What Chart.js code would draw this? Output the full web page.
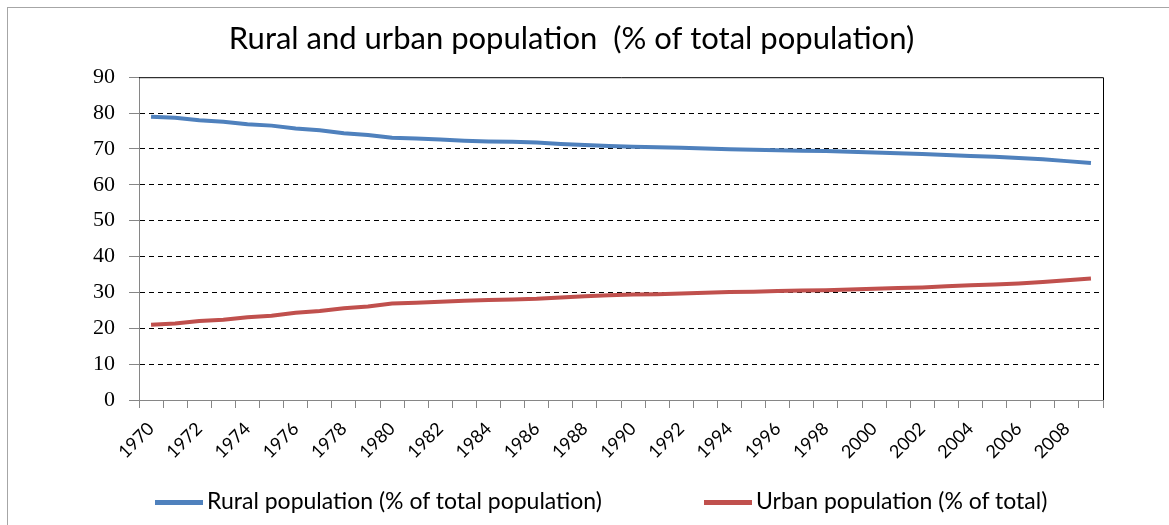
<!DOCTYPE html>
<html>
<head>
<meta charset="utf-8">
<script src="https://cdn.jsdelivr.net/npm/chart.js@4.4.1/dist/chart.umd.min.js"></script>
<style>
  html, body { margin: 0; padding: 0; background: #fff; }
  #wrap   { position: relative; width: 1169px; height: 525px; overflow: hidden; }
  #frame  { position: absolute; left: 7px; top: 7px; width: 1300px; height: 700px;
            border: 1px solid #a6a6a6; box-sizing: border-box; }
  #chart  { position: absolute; left: 0; top: 0; }
  .legend { position: absolute; top: 486px; font-family: Lato, "Open Sans", sans-serif;
            font-size: 23px; color: #000; white-space: nowrap; line-height: 28px; }
  .legend i { display: inline-block; width: 48px; height: 5px; vertical-align: middle;
              margin-right: 4px; position: relative; top: -1px; }
</style>
</head>
<body>
<div id="wrap">
  <div id="frame"></div>
  <canvas id="chart" width="1169" height="525"></canvas>
  <div class="legend" id="lg0" style="left:155px"></div>
  <div class="legend" id="lg1" style="left:704px"></div>
</div>
<script>
/* Rural and urban population (% of total) 1970-2009 */

const years = [
  "1970", "1971", "1972", "1973", "1974", "1975", "1976", "1977", "1978", "1979",
  "1980", "1981", "1982", "1983", "1984", "1985", "1986", "1987", "1988", "1989",
  "1990", "1991", "1992", "1993", "1994", "1995", "1996", "1997", "1998", "1999",
  "2000", "2001", "2002", "2003", "2004", "2005", "2006", "2007", "2008", "2009",
];

const rural = [
  79.0, 78.7, 78.0, 77.6, 76.9, 76.5, 75.7, 75.2, 74.4, 73.9,
  73.1, 72.9, 72.6, 72.3, 72.1, 72.0, 71.8, 71.4, 71.1, 70.8,
  70.6, 70.5, 70.3, 70.1, 69.9, 69.8, 69.6, 69.5, 69.4, 69.2,
  69.0, 68.8, 68.6, 68.3, 68.0, 67.8, 67.5, 67.1, 66.6, 66.1,
];

const urban = [
  21.0, 21.3, 22.0, 22.4, 23.1, 23.5, 24.3, 24.8, 25.6, 26.1,
  26.9, 27.1, 27.4, 27.7, 27.9, 28.0, 28.2, 28.6, 28.9, 29.2,
  29.4, 29.5, 29.7, 29.9, 30.1, 30.2, 30.4, 30.5, 30.6, 30.8,
  31.0, 31.2, 31.4, 31.7, 32.0, 32.2, 32.5, 32.9, 33.4, 33.9,
];

const seriesNames = ["Rural population (% of total population)", "Urban population (% of total)"];
const yTicks = [0, 10, 20, 30, 40, 50, 60, 70, 80, 90];

const BLUE  = "#4f81bd";
const RED   = "#c0504d";
const AXIS  = "#868686";
const LABEL = "Lato, 'Open Sans', sans-serif";

// solid black top + right edge of the plot area
const plotFrame = {
  id: "plotFrame",
  beforeDatasetsDraw(chart) {
    const { ctx, chartArea: a } = chart;
    ctx.save();
    ctx.strokeStyle = "#000";
    ctx.lineWidth = 1;
    ctx.beginPath();
    ctx.moveTo(a.left, a.top + 0.5);
    ctx.lineTo(a.right + 0.5, a.top + 0.5);
    ctx.lineTo(a.right + 0.5, a.bottom);
    ctx.stroke();
    ctx.restore();
  },
};

new Chart(document.getElementById("chart"), {
  type: "line",
  data: {
    labels: years,
    datasets: [
      { label: seriesNames[0], data: rural, borderColor: BLUE, backgroundColor: BLUE,
        borderWidth: 4, pointRadius: 0, tension: 0 },
      { label: seriesNames[1], data: urban, borderColor: RED, backgroundColor: RED,
        borderWidth: 4, pointRadius: 0, tension: 0 },
    ],
  },
  options: {
    responsive: false,
    animation: false,
    layout: { padding: { left: 40, right: 66, top: 0, bottom: 50 } },
    plugins: {
      legend: { display: false },
      tooltip: { enabled: false },
      title: {
        display: true,
        text: "Rural and urban population  (% of total population)",
        color: "#000",
        font: { family: LABEL, size: 31, weight: "normal" },
        padding: { top: 20, bottom: 20 },
      },
    },
    scales: {
      x: {
        offset: true,
        grid: { offset: true, drawOnChartArea: false, tickLength: 8, tickColor: AXIS },
        border: { color: AXIS, width: 1 },
        ticks: {
          autoSkip: false,
          minRotation: 45,
          maxRotation: 45,
          color: "#000",
          font: { family: LABEL, size: 18 },
          padding: 10,
          callback: (v, i) => (i % 2 === 0 ? years[i] : ""),
        },
        afterFit: s => { s.height = 75; },
      },
      y: {
        min: 0,
        max: 90,
        afterBuildTicks: s => { s.ticks = yTicks.map(v => ({ value: v })); },
        grid: {
          color: c => (c.tick && c.tick.value > 0 && c.tick.value < 90 ? "#000" : "rgba(0,0,0,0)"),
          lineWidth: 1,
          tickLength: 10,
          tickColor: AXIS,
        },
        border: { color: AXIS, width: 1, dash: [5, 4] },
        ticks: {
          color: "#000",
          font: { family: "'Liberation Serif', serif", size: 22 },
          padding: 14,
        },
        afterFit: s => { s.width = 99; },
      },
    },
  },
  plugins: [plotFrame],
});

[BLUE, RED].forEach((col, i) => {
  document.getElementById("lg" + i).innerHTML =
    '<i style="background:' + col + '"></i>' + seriesNames[i];
});
</script>
</body>
</html>
